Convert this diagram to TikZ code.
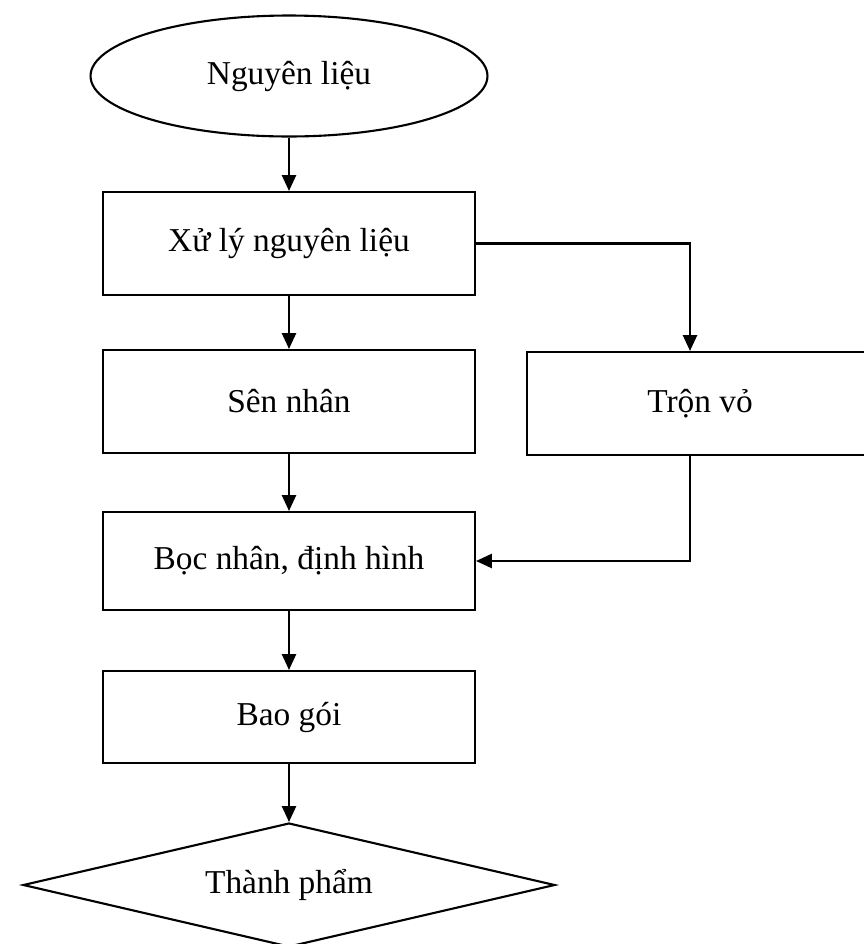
\documentclass[tikz,border=0pt]{standalone}
\usepackage{fontspec}
\setmainfont{Liberation Serif}
\usetikzlibrary{arrows.meta,shapes.geometric,calc}
\tikzset{FLOW style/.style={>={Triangle[length=9pt,width=8pt]},line width=1.2pt,every node/.style={font=\fontsize{19}{23}\selectfont}}}

\begin{document}
\begin{tikzpicture}[x=0.02cm,y=-0.02cm,FLOW style]
	\tikzstyle{proc}=[draw,rectangle,minimum width=7.44cm,minimum height=2.06cm,inner sep=2pt]
	\tikzstyle{src}=[draw,ellipse,minimum width=7.94cm,minimum height=2.42cm,inner sep=0pt]
	\tikzstyle{prod}=[draw,diamond,aspect=4.3,minimum width=10.64cm,minimum height=2.48cm,inner sep=0pt]
	
	\useasboundingbox (0,0) rectangle (863,944);
	
	\node[src] (raw) at (289,76) {Nguyên liệu};
	\node[proc] (prep) at (289,243.5) {Xử lý nguyên liệu};
	\node[proc] (filling) at (289,401.5) {Sên nhân};
	\node[proc, minimum width=6.92cm] (dough) at (700,403.5) {Trộn vỏ};
	\node[proc, minimum height=1.96cm] (shape) at (289,561) {Bọc nhân, định hình};
	\node[proc, minimum height=1.84cm] (pack) at (289,717) {Bao gói};
	\node[prod] (done) at (289,885) {Thành phẩm};
	
	\path[->]
	(raw) edge (prep)
	(prep) edge (filling)
	(filling) edge (shape)
	(shape) edge (pack)
	(pack) edge (done)
	;
	% side branch for the dough
	\draw[->] (prep.east) -| ([xshift=-0.2cm]dough.north);
	\draw[->] ([xshift=-0.2cm]dough.south) |- (shape.east);
\end{tikzpicture}
\end{document}
